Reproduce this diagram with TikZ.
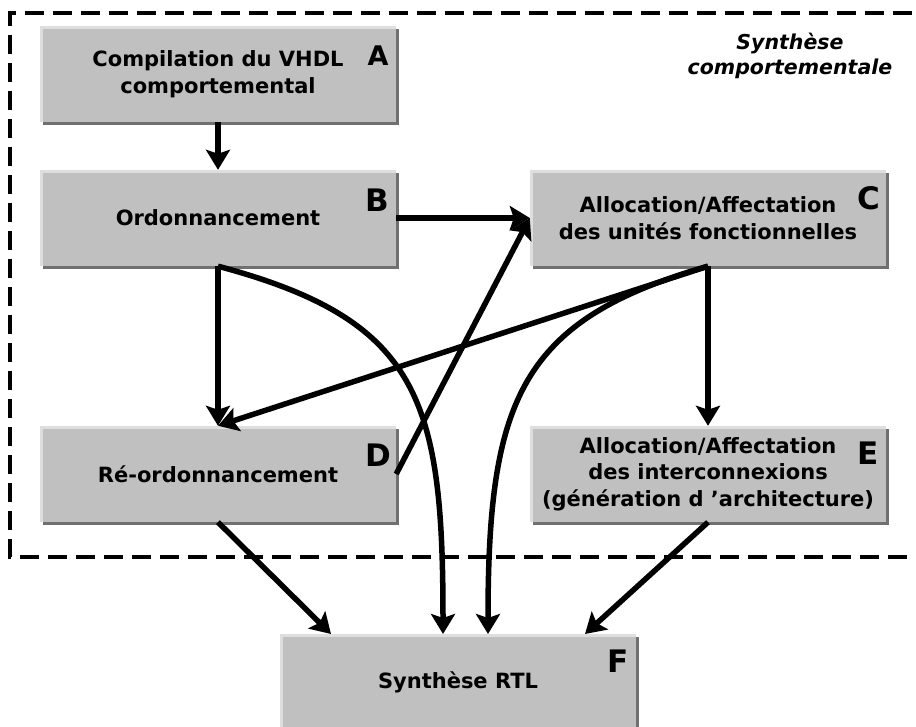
\documentclass[tikz,border=0pt]{standalone}
\usepackage{fontspec}
\setmainfont{DejaVu Sans}
\usetikzlibrary{arrows.meta}
\definecolor{boxfill}{HTML}{C0C0C0}
\definecolor{boxshadow}{HTML}{707070}
\definecolor{boxlight}{HTML}{DEDEDE}
\tikzset{
  stagebox/.style={
    fill=boxfill, minimum width=356pt, minimum height=96pt, inner sep=0pt,
    align=center, font=\fontsize{21}{26.5}\selectfont\bfseries,
    preaction={fill=boxshadow, transform canvas={xshift=3pt,yshift=-3pt}},
    path picture={
      \fill[boxlight] (path picture bounding box.north west) rectangle ([yshift=-3pt]path picture bounding box.north east);
      \fill[boxlight] (path picture bounding box.north west) rectangle ([xshift=3pt]path picture bounding box.south west);
    }
  },
  tag/.style={font=\fontsize{31}{31}\selectfont\bfseries, inner sep=0pt},
  flow/.style={line width=5.5pt, -{Stealth[length=20pt,width=24pt,inset=4pt]}},
  region/.style={line width=4pt, dash pattern=on 19pt off 9pt}
}
\begin{document}
\begin{tikzpicture}[x=1pt,y=-1pt]
\useasboundingbox (0,0) rectangle (916,727);
\clip (0,0) rectangle (916,727);

\draw[region] (940,13) -- (10,13) -- (10,557) -- (940,557);

\node[font=\fontsize{20.5}{25}\selectfont\bfseries\itshape, align=center] (title) at (790,56) {Synthèse\\comportementale};

\node[stagebox] (A) at (218,74) {Compilation du VHDL\\comportemental};
\node[stagebox] (B) at (218,218) {Ordonnancement};
\node[stagebox] (C) at (708,218) {Allocation/Affectation\\des unités fonctionnelles};
\node[stagebox] (D) at (218,474) {Ré-ordonnancement};
\node[stagebox] (E) at (708,474) {Allocation/Affectation\\des interconnexions\\(génération d 'architecture)};
\node[stagebox] (F) at (458,682) {Synthèse RTL};

\node[tag, font=\fontsize{27}{27}\selectfont\bfseries] (la) at (378,56) {A};
\node[tag] (lb) at (377,200) {B};
\node[tag] (lc) at (869,198) {C};
\node[tag] (ld) at (378,455) {D};
\node[tag] (le) at (868,453) {E};
\node[tag] (lf) at (618,661) {F};

\coordinate (Fb) at (443,634);
\coordinate (Fc) at (488,634);
\coordinate (Fd) at (331,634);
\coordinate (Fe) at (585,634);

\draw[flow] (A.south) -- (B.north);
\draw[flow] (B.east) -- (C.west);
\draw[flow] (B.south) -- (D.north);
\draw[flow] (C.south) -- (E.north);
\draw[flow] (C.south) -- (D.north);
\draw[flow] (D.east) -- (C.west);
\draw[flow] (B.south) .. controls (420,320) and (443,400) .. (Fb);
\draw[flow] (C.south) .. controls (520,320) and (488,400) .. (Fc);
\draw[flow] (D.south) -- (Fd);
\draw[flow] (E.south) -- (Fe);
\end{tikzpicture}
\end{document}
